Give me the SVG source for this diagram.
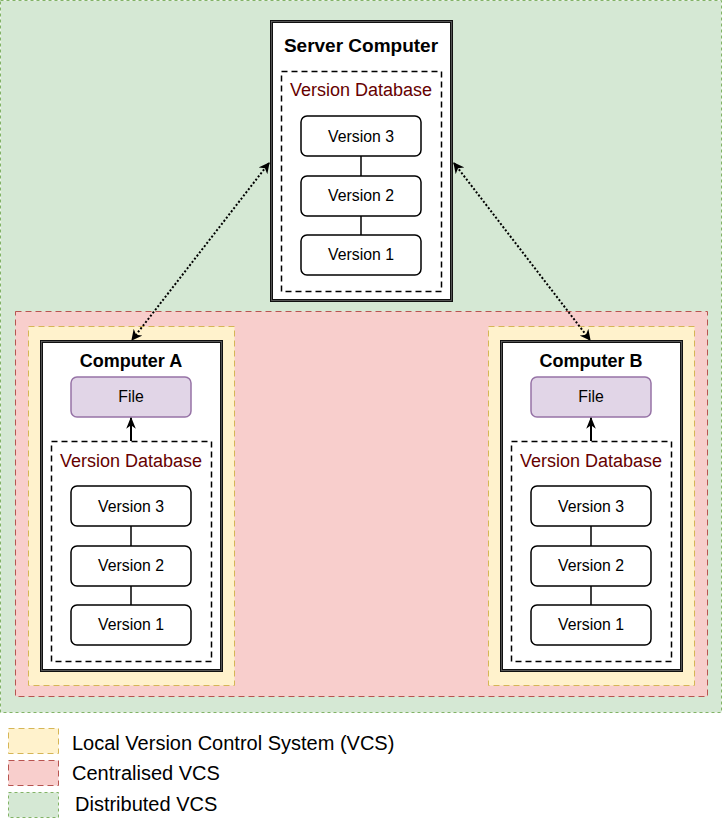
<svg xmlns="http://www.w3.org/2000/svg" width="722" height="824" viewBox="0 0 722 824">
<style>
text{font-family:"Liberation Sans",Arial,sans-serif;text-anchor:middle}
.g{fill:#d5e8d4;stroke:#82b366;stroke-dasharray:3 3}
.r{fill:#f8cecc;stroke:#b85450;stroke-dasharray:6 4}
.y{fill:#fff2cc;stroke:#d6b656;stroke-dasharray:6 4}
.comp{fill:#fff;stroke:#111;stroke-width:3}
.comp2{fill:none;stroke:#666;stroke-width:0.8}
.db{fill:none;stroke:#000;stroke-width:1.5;stroke-dasharray:6 4}
.ver{fill:#fff;stroke:#000;stroke-width:1.5}
.file{fill:#e1d5e7;stroke:#9673a6;stroke-width:1.5}
.t{font-size:18px;font-weight:bold}
.dbt{font-size:18px;fill:#660000}
.vt{font-size:15.8px}
.lg{font-size:20px;text-anchor:start}
.line{stroke:#000;stroke-width:1.5;fill:none}
.arr{stroke:#000;stroke-width:2;fill:none}
.dot{stroke:#000;stroke-width:2;stroke-dasharray:2 2;fill:none}
</style>
<defs>
<marker id="ah" viewBox="0 0 10 10" refX="9" refY="5" markerWidth="12" markerHeight="12" orient="auto-start-reverse" markerUnits="userSpaceOnUse">
<path d="M0,1 L10,5 L0,9 L3,5 Z" fill="#000"/>
</marker>
<marker id="ah2" viewBox="0 0 10 10" refX="9" refY="5" markerWidth="11" markerHeight="11" orient="auto-start-reverse" markerUnits="userSpaceOnUse">
<path d="M0,0 L10,5 L0,10 L3,5 Z" fill="#000"/>
</marker>
</defs>
<g id="distributed"><rect class="g" x="0.5" y="0.5" width="721" height="712"/></g>
<g id="centralised"><rect class="r" x="15.5" y="311.5" width="692" height="385"/></g>
<g id="localA"><rect class="y" x="28.5" y="326.5" width="206" height="359"/></g>
<g id="localB"><rect class="y" x="488.5" y="326.5" width="206" height="359"/></g>

<g id="server">
<rect class="comp" x="271.5" y="21.5" width="180" height="279"/>
<rect class="comp2" x="271.5" y="21.5" width="180" height="279"/>
<text class="t" x="361" y="52" style="font-size:19px">Server Computer</text>
<rect class="db" x="281.5" y="71.5" width="160" height="220"/>
<text class="dbt" x="361" y="96">Version Database</text>
<line class="line" x1="361" y1="156" x2="361" y2="176"/>
<line class="line" x1="361" y1="216" x2="361" y2="236"/>
<rect class="ver" x="301" y="116" width="120" height="40" rx="6"/>
<text class="vt" x="361" y="142">Version 3</text>
<rect class="ver" x="301" y="176" width="120" height="40" rx="6"/>
<text class="vt" x="361" y="201">Version 2</text>
<rect class="ver" x="301" y="235" width="120" height="40" rx="6"/>
<text class="vt" x="361" y="260">Version 1</text>
</g>

<g id="computerA">
<rect class="comp" x="41.5" y="341.5" width="180" height="329"/>
<rect class="comp2" x="41.5" y="341.5" width="180" height="329"/>
<text class="t" x="131" y="367">Computer A</text>
<rect class="file" x="71" y="377" width="120" height="40" rx="6"/>
<text class="vt" x="131" y="402">File</text>
<rect class="db" x="51.5" y="441.5" width="160" height="220"/>
<text class="dbt" x="131" y="467">Version Database</text>
<line class="line" x1="131" y1="526" x2="131" y2="546"/>
<line class="line" x1="131" y1="586" x2="131" y2="605"/>
<rect class="ver" x="71" y="486" width="120" height="40" rx="6"/>
<text class="vt" x="131" y="512">Version 3</text>
<rect class="ver" x="71" y="546" width="120" height="40" rx="6"/>
<text class="vt" x="131" y="571">Version 2</text>
<rect class="ver" x="71" y="605" width="120" height="40" rx="6"/>
<text class="vt" x="131" y="630">Version 1</text>
</g>

<g id="computerB">
<rect class="comp" x="501.5" y="341.5" width="180" height="329"/>
<rect class="comp2" x="501.5" y="341.5" width="180" height="329"/>
<text class="t" x="591" y="367">Computer B</text>
<rect class="file" x="531" y="377" width="120" height="40" rx="6"/>
<text class="vt" x="591" y="402">File</text>
<rect class="db" x="511.5" y="441.5" width="160" height="220"/>
<text class="dbt" x="591" y="467">Version Database</text>
<line class="line" x1="591" y1="526" x2="591" y2="546"/>
<line class="line" x1="591" y1="586" x2="591" y2="605"/>
<rect class="ver" x="531" y="486" width="120" height="40" rx="6"/>
<text class="vt" x="591" y="512">Version 3</text>
<rect class="ver" x="531" y="546" width="120" height="40" rx="6"/>
<text class="vt" x="591" y="571">Version 2</text>
<rect class="ver" x="531" y="605" width="120" height="40" rx="6"/>
<text class="vt" x="591" y="630">Version 1</text>
</g>

<g id="connectors">
<line class="arr" x1="131" y1="441" x2="131" y2="418" marker-end="url(#ah)"/>
<line class="arr" x1="591" y1="441" x2="591" y2="418" marker-end="url(#ah)"/>
<line class="dot" x1="269" y1="163" x2="132" y2="340" marker-start="url(#ah2)" marker-end="url(#ah2)"/>
<line class="dot" x1="454" y1="163" x2="590" y2="340" marker-start="url(#ah2)" marker-end="url(#ah2)"/>
</g>

<g id="legend">
<rect class="y" x="8.5" y="728.5" width="50" height="25"/>
<text class="lg" x="72" y="750">Local Version Control System (VCS)</text>
<rect class="r" x="8.5" y="760.5" width="50" height="25"/>
<text class="lg" x="72" y="780">Centralised VCS</text>
<rect class="g" x="8.5" y="792.5" width="50" height="25"/>
<text class="lg" x="75" y="811">Distributed VCS</text>
</g>
</svg>
